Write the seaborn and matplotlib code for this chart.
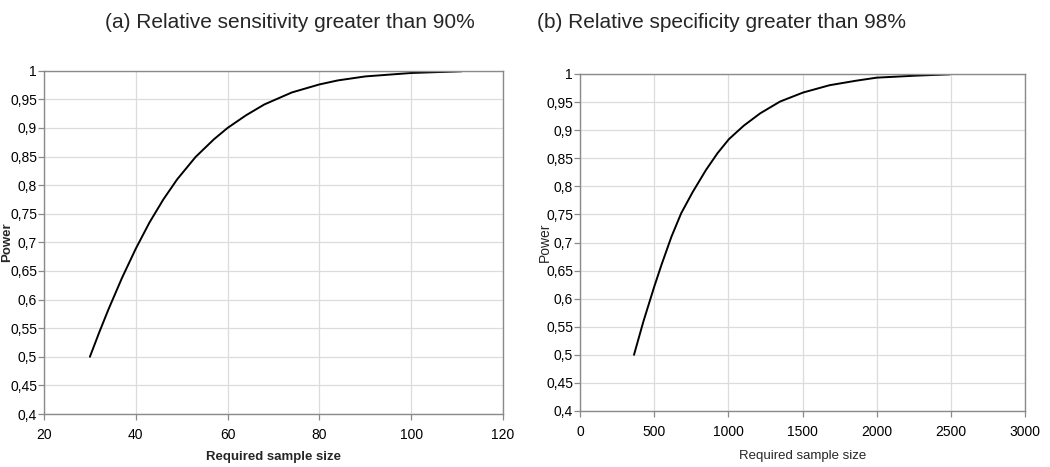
import numpy as np
import pandas as pd
import matplotlib
matplotlib.use("Agg")
import matplotlib.pyplot as plt
from matplotlib.ticker import FuncFormatter, MultipleLocator
import seaborn as sns

# Panel (a): relative sensitivity > 90%
sens_n = [30, 32, 34, 37, 40, 43, 46, 49, 53, 57, 60, 64, 68, 74, 80, 84, 90, 100, 111]
sens_power = [0.500, 0.542, 0.582, 0.638, 0.689, 0.735, 0.775, 0.810, 0.849,
              0.880, 0.900, 0.922, 0.941, 0.962, 0.976, 0.983, 0.990, 0.996, 0.999]

# Panel (b): relative specificity > 98%
spec_n = [364, 427, 500, 549, 616, 682, 760, 849, 927, 1004, 1104, 1215, 1349,
          1504, 1682, 1860, 2000, 2260, 2493]
spec_power = [0.500, 0.559, 0.621, 0.660, 0.710, 0.752, 0.790, 0.829, 0.859,
              0.884, 0.908, 0.930, 0.951, 0.967, 0.980, 0.988, 0.9935, 0.997, 0.9994]

titles = ["(a) Relative sensitivity greater than 90%",
          "(b) Relative specificity greater than 98%"]
xlabel = "Required sample size"
ylabel = "Power"

sns.set_style("white")
plt.rcParams['font.family'] = ['Liberation Sans', 'DejaVu Sans']

fig = plt.figure(figsize=(10.5, 4.67), dpi=100)
ax1 = fig.add_axes([44/1050, 1-414/467, (503-44)/1050, (414-70.7)/467])
ax2 = fig.add_axes([580/1050, 1-411/467, (1025-580)/1050, (411-74)/467])

df_a = pd.DataFrame({"n": sens_n, "power": sens_power})
df_b = pd.DataFrame({"n": spec_n, "power": spec_power})

sns.lineplot(data=df_a, x="n", y="power", ax=ax1, color="black", lw=1.4)
sns.lineplot(data=df_b, x="n", y="power", ax=ax2, color="black", lw=1.4)

fmt = FuncFormatter(lambda v, p: ('%g' % round(v, 2)).replace('.', ','))
for ax, (xmin, xmax, xstep) in zip([ax1, ax2], [(20, 120, 20), (0, 3000, 500)]):
    ax.set_xlim(xmin, xmax)
    ax.set_ylim(0.4, 1.0)
    ax.xaxis.set_major_locator(MultipleLocator(xstep))
    ax.yaxis.set_major_locator(MultipleLocator(0.05))
    ax.yaxis.set_major_formatter(fmt)
    ax.grid(True, color="#dcdcdc", lw=0.9)
    ax.set_axisbelow(True)
    for s in ax.spines.values():
        s.set_color("#8a8a8a")
        s.set_linewidth(1.0)
    ax.tick_params(axis="both", which="major", direction="out", length=4,
                   width=0.9, color="#8a8a8a", labelsize=10, labelcolor="black",
                   left=True, bottom=True)
    ax.tick_params(axis="x", pad=6)
    ax.tick_params(axis="y", pad=1)
    ax.set_xlabel("")
    ax.set_ylabel("")

ax1.set_xlabel(xlabel, fontsize=9.5, fontweight="bold")
ax1.xaxis.set_label_coords(0.5, -0.108)
ax1.set_ylabel(ylabel, fontsize=9.5, fontweight="bold")
ax1.yaxis.set_label_coords(-0.0675, 0.5)
ax2.set_xlabel(xlabel, fontsize=9.5)
ax2.xaxis.set_label_coords(0.5, -0.116)
ax2.set_ylabel(ylabel, fontsize=10)
ax2.yaxis.set_label_coords(-0.063, 0.5)

fig.text(105/1050, 1-28/467, titles[0], fontsize=15, va="baseline", ha="left")
fig.text(537/1050, 1-28/467, titles[1], fontsize=15, va="baseline", ha="left")

fig.savefig("out.png", dpi=100, facecolor="white")
